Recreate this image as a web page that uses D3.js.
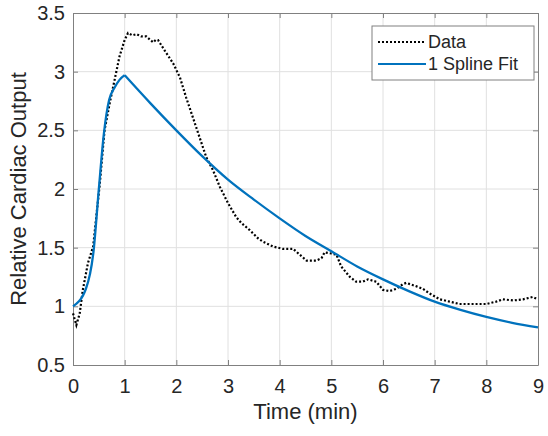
<!DOCTYPE html>
<html>
<head>
<meta charset="utf-8">
<script src="https://cdn.jsdelivr.net/npm/d3@7"></script>
<style>
  body { margin: 0; background: #fff; }
  text { font-family: "Liberation Sans", Arial, sans-serif; fill: #262626; }
</style>
</head>
<body>
<svg id="chart" width="548" height="436"></svg>
<script>
// values
var dataTime = [0, 0.065, 0.13, 0.19, 0.29, 0.39, 0.45, 0.52, 0.61, 0.71, 0.81, 0.9, 1.0, 1.065, 1.15, 1.23, 1.32, 1.42, 1.55, 1.6, 1.645, 1.775, 1.94, 2.07, 2.19, 2.32, 2.45, 2.58, 2.71, 2.84, 3.0, 3.16, 3.26, 3.42, 3.58, 3.68, 3.87, 4.06, 4.26, 4.39, 4.52, 4.71, 4.81, 4.87, 5.0, 5.1, 5.19, 5.36, 5.48, 5.61, 5.71, 5.87, 6.0, 6.13, 6.26, 6.39, 6.45, 6.65, 6.77, 6.9, 7.1, 7.29, 7.48, 7.74, 8.0, 8.19, 8.32, 8.52, 8.71, 8.9, 9.0];
var dataValue = [0.94, 0.84, 0.94, 1.14, 1.37, 1.51, 1.76, 2.05, 2.5, 2.73, 2.94, 3.13, 3.27, 3.33, 3.31, 3.32, 3.30, 3.30, 3.25, 3.27, 3.27, 3.18, 3.07, 2.95, 2.78, 2.61, 2.44, 2.27, 2.16, 2.02, 1.88, 1.76, 1.71, 1.65, 1.58, 1.55, 1.51, 1.49, 1.49, 1.44, 1.39, 1.39, 1.41, 1.46, 1.45, 1.44, 1.34, 1.25, 1.21, 1.21, 1.23, 1.21, 1.14, 1.13, 1.15, 1.19, 1.2, 1.17, 1.15, 1.11, 1.06, 1.04, 1.02, 1.02, 1.02, 1.04, 1.06, 1.05, 1.06, 1.08, 1.06];

var fitTime = [0, 0.25, 0.4, 0.5, 0.6, 0.7, 0.8, 0.9, 1.0, 1.5, 2, 2.5, 3, 3.5, 4, 4.5, 5, 5.5, 6, 6.5, 7, 7.5, 8, 8.5, 9];
var fitValue = [1.0, 1.15, 1.48, 2.0, 2.48, 2.76, 2.86, 2.93, 2.97, 2.73, 2.5, 2.28, 2.08, 1.91, 1.75, 1.6, 1.47, 1.34, 1.23, 1.13, 1.04, 0.97, 0.91, 0.86, 0.82];

var xTicks = [0, 1, 2, 3, 4, 5, 6, 7, 8, 9];
var yTicks = [0.5, 1, 1.5, 2, 2.5, 3, 3.5];
var legendLabels = ["Data", "1 Spline Fit"];

var svg = d3.select("#chart");
var margin = { top: 13, right: 10, bottom: 71, left: 73 };
var width = 538 - margin.left;
var height = 365 - margin.top;

var x = d3.scaleLinear().domain([0, 9]).range([0, width]);
var y = d3.scaleLinear().domain([0.5, 3.5]).range([height, 0]);

var g = svg.append("g")
  .attr("transform", "translate(" + margin.left + "," + margin.top + ")");

// grid
g.append("g").selectAll("line").data(xTicks.slice(1, -1)).enter().append("line")
  .attr("x1", d => x(d)).attr("x2", d => x(d))
  .attr("y1", 0).attr("y2", height)
  .attr("stroke", "#e0e0e0").attr("stroke-width", 1);
g.append("g").selectAll("line").data(yTicks.slice(1, -1)).enter().append("line")
  .attr("y1", d => y(d)).attr("y2", d => y(d))
  .attr("x1", 0).attr("x2", width)
  .attr("stroke", "#e0e0e0").attr("stroke-width", 1);

// axes (ticks inward, box on all sides)
function styleAxis(sel) {
  sel.select(".domain").attr("stroke", "#808080");
  sel.selectAll(".tick line").attr("stroke", "#808080");
  sel.selectAll(".tick text").attr("fill", "#262626")
    .style("font-family", "'Liberation Sans', Arial, sans-serif").style("font-size", "20px");
}

g.append("g")
  .attr("transform", "translate(0," + height + ")")
  .call(d3.axisBottom(x).tickValues(xTicks).tickFormat(d3.format("d")).tickSizeInner(-5).tickSizeOuter(0).tickPadding(14))
  .call(styleAxis);
g.append("g")
  .call(d3.axisTop(x).tickValues(xTicks).tickFormat("").tickSizeInner(-5).tickSizeOuter(0))
  .call(styleAxis);
g.append("g")
  .call(d3.axisLeft(y).tickValues(yTicks).tickFormat(d3.format("")).tickSizeInner(-5).tickSizeOuter(0).tickPadding(8))
  .call(styleAxis);
g.append("g")
  .attr("transform", "translate(" + width + ",0)")
  .call(d3.axisRight(y).tickValues(yTicks).tickFormat("").tickSizeInner(-5).tickSizeOuter(0))
  .call(styleAxis);

// data line
var dataPts = dataTime.map((t, i) => [t, dataValue[i]]);
g.append("path")
  .datum(dataPts)
  .attr("fill", "none")
  .attr("stroke", "#000")
  .attr("stroke-width", 2.2)
  .attr("stroke-dasharray", "2,2")
  .attr("d", d3.line().x(d => x(d[0])).y(d => y(d[1])));

// fit line, rise and decay drawn separately so the peak stays sharp
var fitPts = fitTime.map((t, i) => [t, fitValue[i]]);
var peak = fitValue.indexOf(d3.max(fitValue));
var fitLine = d3.line().x(d => x(d[0])).y(d => y(d[1])).curve(d3.curveMonotoneX);
[fitPts.slice(0, peak + 1), fitPts.slice(peak)].forEach(function (part) {
  g.append("path")
    .datum(part)
    .attr("fill", "none")
    .attr("stroke", "#0072BD")
    .attr("stroke-width", 2.3)
    .attr("stroke-linejoin", "round")
    .attr("d", fitLine);
});

// axis labels
svg.append("text")
  .attr("x", margin.left + width / 2).attr("y", 419)
  .attr("text-anchor", "middle").style("font-size", "22px")
  .text("Time (min)");
svg.append("text")
  .attr("transform", "translate(26," + (margin.top + height / 2) + ") rotate(-90)")
  .attr("text-anchor", "middle").style("font-size", "22px")
  .text("Relative Cardiac Output");

// legend
var lg = svg.append("g").attr("transform", "translate(372,26)");
lg.append("rect").attr("width", 162).attr("height", 54)
  .attr("fill", "#fff").attr("stroke", "#808080").attr("stroke-width", 1);
var styles = [
  { stroke: "#000", dash: "2,2" },
  { stroke: "#0072BD", dash: null }
];
legendLabels.forEach(function (label, i) {
  var cy = 16 + i * 22;
  lg.append("line")
    .attr("x1", 6).attr("x2", 54).attr("y1", cy).attr("y2", cy)
    .attr("stroke", styles[i].stroke).attr("stroke-width", 2)
    .attr("stroke-dasharray", styles[i].dash);
  lg.append("text")
    .attr("x", 56).attr("y", cy + 6)
    .style("font-size", "18px")
    .text(label);
});
</script>
</body>
</html>
